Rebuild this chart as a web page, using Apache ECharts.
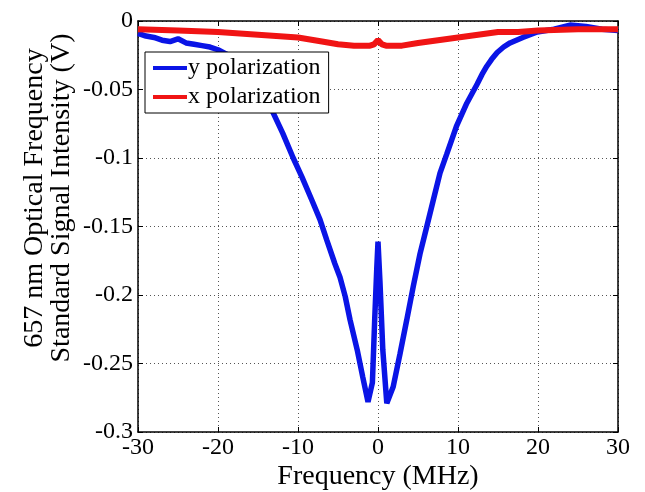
<!DOCTYPE html>
<html>
<head>
<meta charset="utf-8">
<script src="https://cdn.jsdelivr.net/npm/echarts@6/dist/echarts.min.js"></script>
<style>
html,body{margin:0;padding:0;background:#fff;}
#chart{width:645px;height:492px;}
</style>
</head>
<body>
<div id="chart"></div>
<script>
// y polarization (blue)
var yPolFreq = [-30,-29,-28,-27,-26,-25,-24,-23,-22,-21,-20,-19,-18,-17,-16,-15,-14,-13.1,-11.9,-10.6,-9.5,-8.25,-7.25,-6.4,-5.4,-4.75,-4.1,-3.5,-2.6,-1.9,-1.25,-0.7,-0.4,-0.15,0,0.25,0.6,1.1,1.9,2.75,3.6,4.4,5.25,6.1,6.9,7.75,8.6,9.8,11.1,12.4,13.0,13.6,14.2,14.9,15.7,16.5,18.1,19.9,22,24,26,28,30];
var yPolVal  = [-0.009,-0.011,-0.012,-0.014,-0.015,-0.013,-0.016,-0.017,-0.018,-0.019,-0.021,-0.024,-0.028,-0.033,-0.040,-0.048,-0.057,-0.067,-0.082,-0.100,-0.114,-0.131,-0.145,-0.160,-0.177,-0.187,-0.201,-0.218,-0.240,-0.260,-0.278,-0.264,-0.216,-0.180,-0.161,-0.191,-0.240,-0.279,-0.267,-0.243,-0.218,-0.194,-0.170,-0.150,-0.131,-0.111,-0.097,-0.077,-0.060,-0.046,-0.039,-0.033,-0.028,-0.023,-0.019,-0.016,-0.012,-0.008,-0.006,-0.003,-0.004,-0.006,-0.007];
// x polarization (red)
var xPolFreq = [-30,-25,-20,-15,-10,-7,-5,-3,-1,-0.5,0,0.5,1,3,5,7.5,10,12.5,15,17.5,20,25,30];
var xPolVal  = [-0.006,-0.007,-0.008,-0.010,-0.012,-0.015,-0.017,-0.018,-0.018,-0.017,-0.014,-0.017,-0.018,-0.018,-0.016,-0.014,-0.012,-0.010,-0.008,-0.008,-0.007,-0.006,-0.006];
var seriesNames = ['y polarization','x polarization'];
var xTitle = 'Frequency (MHz)';
var yTitle = '657 nm Optical Frequency\nStandard Signal Intensity (V)';

function pairs(a,b){var r=[];for(var i=0;i<a.length;i++)r.push([a[i],b[i]]);return r;}

var FONT = 'Liberation Serif';
var chart = echarts.init(document.getElementById('chart'), null, {renderer:'canvas'});
var gridLine = {show:true, lineStyle:{color:'#555', width:1, type:[1,3]}};
chart.setOption({
  animation:false,
  backgroundColor:'#fff',
  grid:{left:138, top:21, width:480, height:411, containLabel:false},
  xAxis:[{
    type:'value', min:-30, max:30, interval:10, position:'bottom',
    axisLine:{show:true, onZero:false, lineStyle:{color:'#000', width:1.5}},
    axisTick:{show:true, inside:true, length:5, lineStyle:{color:'#000'}},
    axisLabel:{color:'#000', fontFamily:FONT, fontSize:24, margin:4},
    splitLine:gridLine
  },{
    type:'value', min:-30, max:30, interval:10, position:'top',
    axisLine:{show:true, onZero:false, lineStyle:{color:'#000', width:1.5}},
    axisTick:{show:true, inside:true, length:5, lineStyle:{color:'#000'}},
    axisLabel:{show:false}, splitLine:{show:false}
  }],
  yAxis:[{
    type:'value', min:-0.3, max:0, interval:0.05, position:'left',
    axisLine:{show:true, onZero:false, lineStyle:{color:'#000', width:1.5}},
    axisTick:{show:true, inside:true, length:5, lineStyle:{color:'#000'}},
    axisLabel:{color:'#000', fontFamily:FONT, fontSize:24, margin:5},
    splitLine:gridLine
  },{
    type:'value', min:-0.3, max:0, interval:0.05, position:'right',
    axisLine:{show:true, onZero:false, lineStyle:{color:'#000', width:1.5}},
    axisTick:{show:true, inside:true, length:5, lineStyle:{color:'#000'}},
    axisLabel:{show:false}, splitLine:{show:false}
  }],
  legend:{
    show:true, orient:'vertical', left:145, top:52, width:182,
    backgroundColor:'#fff', borderColor:'#000', borderWidth:1,
    padding:[4,8,4,8], itemGap:5, itemWidth:34, itemHeight:4,
    icon:'rect',
    textStyle:{color:'#000', fontFamily:FONT, fontSize:24, padding:[0,2,0,-4]},
    data:seriesNames
  },
  series:[{
    name:seriesNames[0], type:'line', data:pairs(yPolFreq,yPolVal),
    showSymbol:false, symbol:'none', color:'#0a14e6',
    lineStyle:{width:5.5, color:'#0a14e6'}
  },{
    name:seriesNames[1], type:'line', data:pairs(xPolFreq,xPolVal),
    showSymbol:false, symbol:'none', color:'#f01414',
    lineStyle:{width:6, color:'#f01414'}
  }],
  graphic:[{
    type:'text', x:378, y:477,
    style:{text:xTitle, font:'28px "Liberation Serif"', fill:'#000', textAlign:'center', textVerticalAlign:'middle'}
  },{
    type:'text', x:48, y:198, rotation:Math.PI/2,
    style:{text:yTitle, font:'28px "Liberation Serif"', fill:'#000', textAlign:'center', textVerticalAlign:'middle', lineHeight:27}
  }]
});
</script>
</body>
</html>
